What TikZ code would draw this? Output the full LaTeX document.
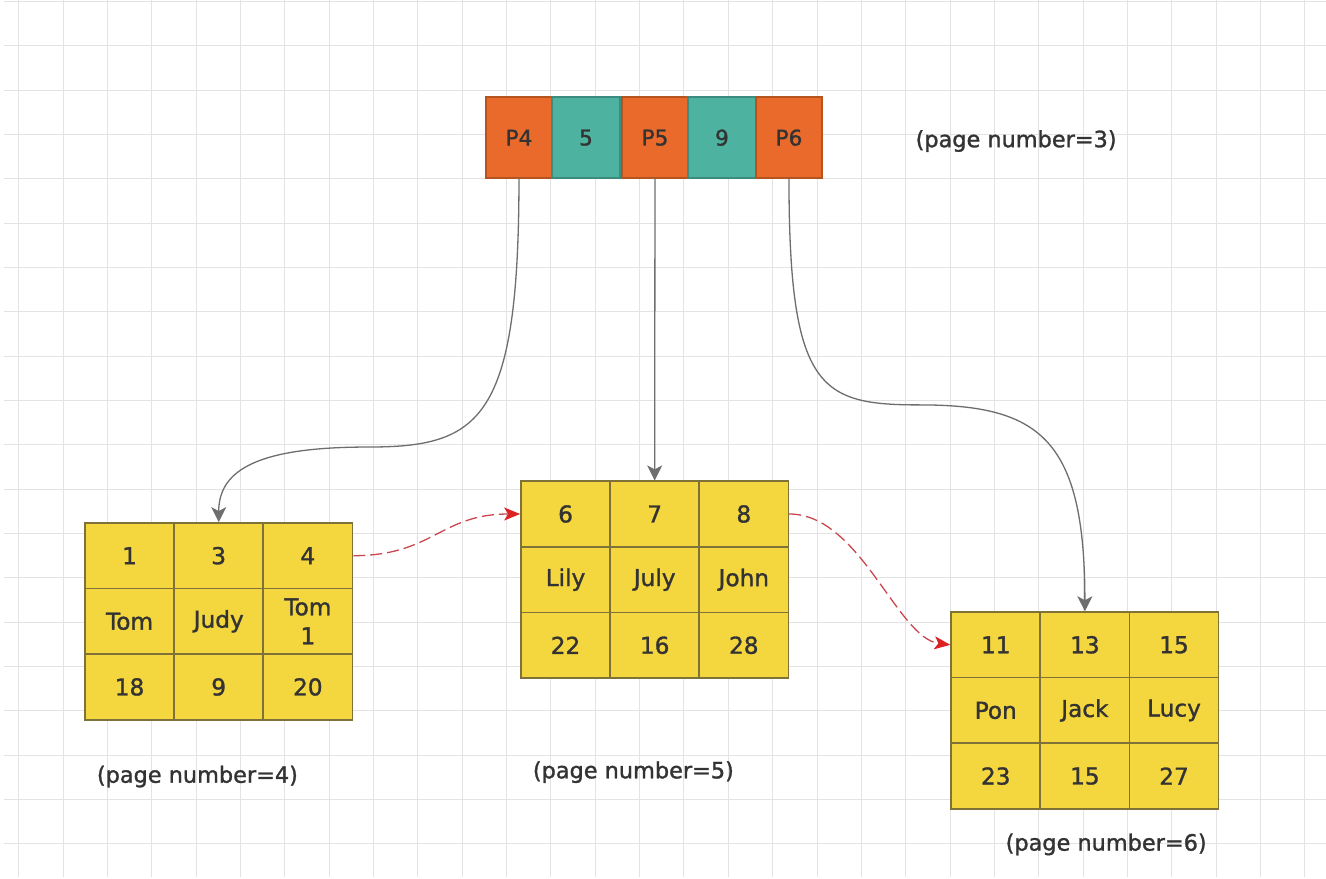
\documentclass[tikz,border=0pt]{standalone}
\usepackage{fontspec}
\setmainfont{DejaVu Sans}[FakeBold=1.3]
\usetikzlibrary{arrows.meta,positioning}
\definecolor{cellfill}{HTML}{F4D63E}
\definecolor{cellline}{HTML}{7E7238}
\definecolor{ptrfill}{HTML}{E96A2A}
\definecolor{ptrline}{HTML}{B4551F}
\definecolor{keyfill}{HTML}{4DB2A0}
\definecolor{keyline}{HTML}{3B8C7E}
\definecolor{textgray}{HTML}{333333}
\definecolor{gridgray}{HTML}{E3E3E3}
\definecolor{arrowgray}{HTML}{6E6E6E}
\definecolor{linkred}{HTML}{C84850}
\definecolor{tipred}{HTML}{DD2222}
\begin{document}
\begin{tikzpicture}[x=22.175pt,y=22.175pt,
  cell/.style={draw=cellline,fill=cellfill,line width=0.8pt,minimum width=44.6pt,
    minimum height=32.8pt,inner sep=1pt,text=textgray,align=center,
    font=\fontsize{11.6}{14.5}\selectfont},
  ptr/.style={draw=ptrline,fill=ptrfill,line width=0.8pt,minimum width=33pt,
    minimum height=40.5pt,inner sep=1pt,outer sep=0pt,text=textgray,
    font=\fontsize{10.8}{12}\selectfont},
  key/.style={ptr,draw=keyline,fill=keyfill,minimum width=34pt},
  pagelabel/.style={text=textgray,font=\fontsize{11.2}{13}\selectfont},
  down/.style={draw=arrowgray,line width=0.65pt,
    -{Stealth[length=7.5pt,width=7.5pt,inset=2pt]}},
  nextpage/.style={draw=linkred,line width=0.65pt,dash pattern=on 6pt off 2.5pt,
    -{Stealth[length=8pt,width=6.5pt,inset=2pt,color=tipred]}}]
\path[use as bounding box,fill=white] (-0.4216,0.0293) rectangle (29.477,-19.768);
\draw[gridgray,line width=0.5pt,step=1] (-0.33,-19.75) grid (29.477,0.0293);

% page 3
\node[ptr] (p4) at (11.28,-3.075) {P4};
\node[key,right=0pt of p4] (k5) {5};
\node[ptr,right=1pt of k5] (p5) {P5};
\node[key,right=0pt of p5] (k9) {9};
\node[ptr,right=0pt of k9] (p6) {P6};
\node[pagelabel] (lab3) at (22.49,-3.15) {(page number=3)};

% page 4
\node[cell] (a11) at (2.50,-12.50) {1};
\node[cell] (a12) at (4.51,-12.50) {3};
\node[cell] (a13) at (6.52,-12.50) {4};
\node[cell] (a21) at (2.50,-13.98) {Tom};
\node[cell] (a22) at (4.51,-13.98) {Judy};
\node[cell] (a23) at (6.52,-13.98) {Tom\\1};
\node[cell] (a31) at (2.50,-15.46) {18};
\node[cell] (a32) at (4.51,-15.46) {9};
\node[cell] (a33) at (6.52,-15.46) {20};
\node[pagelabel] (lab4) at (4.03,-17.48) {(page number=4)};

% page 5
\node[cell] (b11) at (12.33,-11.56) {6};
\node[cell] (b12) at (14.34,-11.56) {7};
\node[cell] (b13) at (16.35,-11.56) {8};
\node[cell] (b21) at (12.33,-13.04) {Lily};
\node[cell] (b22) at (14.34,-13.04) {July};
\node[cell] (b23) at (16.35,-13.04) {John};
\node[cell] (b31) at (12.33,-14.52) {22};
\node[cell] (b32) at (14.34,-14.52) {16};
\node[cell] (b33) at (16.35,-14.52) {28};
\node[pagelabel] (lab5) at (13.86,-17.38) {(page number=5)};

% page 6
\node[cell] (c11) at (22.03,-14.51) {11};
\node[cell] (c12) at (24.04,-14.51) {13};
\node[cell] (c13) at (26.05,-14.51) {15};
\node[cell] (c21) at (22.03,-15.99) {Pon};
\node[cell] (c22) at (24.04,-15.99) {Jack};
\node[cell] (c23) at (26.05,-15.99) {Lucy};
\node[cell] (c31) at (22.03,-17.47) {23};
\node[cell] (c32) at (24.04,-17.47) {15};
\node[cell] (c33) at (26.05,-17.47) {27};
\node[pagelabel] (lab6) at (24.52,-19.01) {(page number=6)};

\coordinate (bendl) at (7.88,-10.05);
\coordinate (bendr) at (20.32,-9.10);
\draw[down] (p4.south) .. controls +(0,-5.46) and +(2.53,0) .. (bendl)
  .. controls +(-2.44,0) and +(0,1.2) .. (a12.north);
\draw[down] (p5.south) -- (b12.north);
\draw[down] (p6.south) .. controls +(0,-4.78) and +(-2.25,0) .. (bendr)
  .. controls +(2.71,0) and +(0,3.88) .. (c12.north);
\draw[nextpage] (a13.east) .. controls +(1.8,0) and +(-1.8,0) .. (b11.west);
\draw[nextpage] (b13.east) .. controls +(1.6,0) and +(-1.2,0.15) .. (c11.west);
\end{tikzpicture}
\end{document}
